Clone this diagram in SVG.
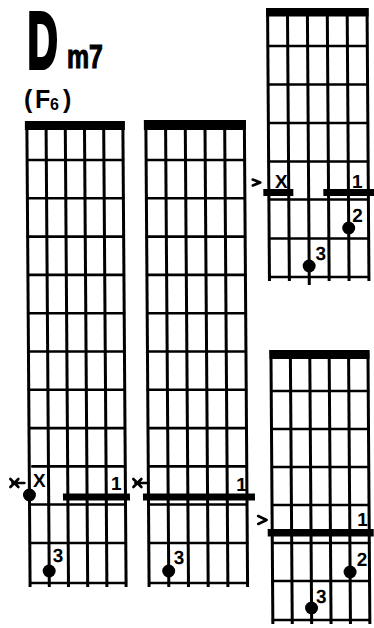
<svg xmlns="http://www.w3.org/2000/svg" width="374" height="628" viewBox="0 0 374 628">
<style>
.s{stroke:#000;stroke-width:3;fill:none}
.f{stroke:#000;stroke-width:2.6;fill:none}
.nut{fill:#000}
.bar{fill:#000}
.dot{fill:#000}
.ptr{stroke:#000;stroke-width:2.6;fill:none;stroke-linecap:round;stroke-linejoin:round}
.lbl{font-family:"Liberation Sans",Arial,sans-serif;font-weight:bold;font-size:19px;fill:#000;text-anchor:middle}
.ttl{font-family:"Liberation Sans",Arial,sans-serif;font-weight:bold;fill:#000}
</style>
<rect width="374" height="628" fill="#fff"/>
<g id="title">
<text class="ttl" transform="translate(27.5,68) scale(0.53,1)" x="0" y="0" font-size="79" stroke="#000" stroke-width="4">D</text>
<text class="ttl" transform="translate(67,68) scale(0.73,1)" x="0" y="0" font-size="34" stroke="#000" stroke-width="1.2">m7</text>
<text class="ttl" font-size="25" y="108"><tspan x="24">(</tspan><tspan x="35">F</tspan><tspan x="50" y="110" font-size="16">6</tspan><tspan x="63" y="108">)</tspan></text>
</g>
<g transform="skewX(0.4)">
<g id="board1">
<rect class="nut" x="24" y="121" width="100" height="9"/>
<g class="s"><line x1="26" y1="121" x2="26" y2="587"/><line x1="45.2" y1="121" x2="45.2" y2="587"/><line x1="64.4" y1="121" x2="64.4" y2="587"/><line x1="83.6" y1="121" x2="83.6" y2="587"/><line x1="102.8" y1="121" x2="102.8" y2="587"/><line x1="122" y1="121" x2="122" y2="587"/></g>
<g class="f"><line x1="25" y1="160" x2="123" y2="160"/><line x1="25" y1="198.3" x2="123" y2="198.3"/><line x1="25" y1="236.6" x2="123" y2="236.6"/><line x1="25" y1="274.9" x2="123" y2="274.9"/><line x1="25" y1="313.2" x2="123" y2="313.2"/><line x1="25" y1="351.5" x2="123" y2="351.5"/><line x1="25" y1="389.8" x2="123" y2="389.8"/><line x1="25" y1="428.1" x2="123" y2="428.1"/><line x1="28" y1="466.4" x2="123" y2="466.4"/><line x1="25" y1="504.5" x2="123" y2="504.5"/><line x1="25" y1="543" x2="123" y2="543"/><line x1="25" y1="583" x2="123" y2="583"/></g>
<rect class="bar" x="59.5" y="493.5" width="67" height="7"/>
<path class="ptr" d="M7,479 L15,487 M7,487 L15,479 M9,483 H21"/>
<circle class="dot" cx="26" cy="495" r="6.5"/>
<circle class="dot" cx="45.2" cy="571" r="6.5"/>
<text class="lbl" x="36" y="487">X</text>
<text class="lbl" x="113" y="490">1</text>
<text class="lbl" x="54" y="562">3</text>
</g>
<g id="board2">
<rect class="nut" x="143" y="120" width="102" height="10"/>
<g class="s"><line x1="145" y1="120" x2="145" y2="587"/><line x1="164.7" y1="120" x2="164.7" y2="587"/><line x1="184.4" y1="120" x2="184.4" y2="587"/><line x1="204.1" y1="120" x2="204.1" y2="587"/><line x1="223.8" y1="120" x2="223.8" y2="587"/><line x1="243.5" y1="120" x2="243.5" y2="587"/></g>
<g class="f"><line x1="144" y1="160" x2="244.5" y2="160"/><line x1="144" y1="198.3" x2="244.5" y2="198.3"/><line x1="144" y1="236.6" x2="244.5" y2="236.6"/><line x1="144" y1="274.9" x2="244.5" y2="274.9"/><line x1="144" y1="313.2" x2="244.5" y2="313.2"/><line x1="144" y1="351.5" x2="244.5" y2="351.5"/><line x1="144" y1="389.8" x2="244.5" y2="389.8"/><line x1="144" y1="428.1" x2="244.5" y2="428.1"/><line x1="144" y1="466.4" x2="244.5" y2="466.4"/><line x1="144" y1="504.5" x2="244.5" y2="504.5"/><line x1="144" y1="543" x2="244.5" y2="543"/><line x1="144" y1="583" x2="244.5" y2="583"/></g>
<rect class="bar" x="139.5" y="493.5" width="112" height="7"/>
<path class="ptr" d="M130,479 L138,487 M130,487 L138,479 M132,483 H144"/>
<circle class="dot" cx="164.7" cy="571" r="6.5"/>
<text class="lbl" x="238" y="491">1</text>
<text class="lbl" x="175" y="564">3</text>
</g>
<g id="board3">
<rect class="nut" x="266" y="8" width="102.5" height="8.5"/>
<g class="s"><line x1="267.5" y1="8" x2="267.5" y2="281"/><line x1="287.4" y1="8" x2="287.4" y2="281"/><line x1="307.3" y1="8" x2="307.3" y2="285"/><line x1="327.2" y1="8" x2="327.2" y2="281"/><line x1="347.1" y1="8" x2="347.1" y2="281"/><line x1="367" y1="8" x2="367" y2="281"/></g>
<g class="f"><line x1="266.5" y1="46" x2="368" y2="46"/><line x1="266.5" y1="84.5" x2="368" y2="84.5"/><line x1="266.5" y1="123" x2="368" y2="123"/><line x1="266.5" y1="161.5" x2="368" y2="161.5"/><line x1="266.5" y1="199.5" x2="368" y2="199.5"/><line x1="266.5" y1="238.5" x2="368" y2="238.5"/><line x1="266.5" y1="277" x2="368" y2="277"/></g>
<rect class="bar" x="262" y="189" width="30" height="7"/>
<rect class="bar" x="322" y="189" width="51" height="7"/>
<path class="ptr" d="M251.5,179.5 L259,182.5 L251.5,185.5"/>
<circle class="dot" cx="347.1" cy="228" r="6.5"/>
<circle class="dot" cx="307.3" cy="266" r="6.5"/>
<text class="lbl" x="280" y="188">X</text>
<text class="lbl" x="356" y="188">1</text>
<text class="lbl" x="356" y="222">2</text>
<text class="lbl" x="319" y="260">3</text>
</g>
<g id="board4">
<rect class="nut" x="267" y="350" width="100" height="9"/>
<g class="s"><line x1="268.5" y1="350" x2="268.5" y2="624"/><line x1="287.9" y1="350" x2="287.9" y2="624"/><line x1="307.3" y1="350" x2="307.3" y2="624"/><line x1="326.7" y1="350" x2="326.7" y2="624"/><line x1="346.1" y1="350" x2="346.1" y2="624"/><line x1="365.5" y1="350" x2="365.5" y2="624"/></g>
<g class="f"><line x1="267.5" y1="391" x2="366.5" y2="391"/><line x1="267.5" y1="429" x2="366.5" y2="429"/><line x1="267.5" y1="467" x2="366.5" y2="467"/><line x1="267.5" y1="505" x2="366.5" y2="505"/><line x1="267.5" y1="543" x2="366.5" y2="543"/><line x1="267.5" y1="581" x2="366.5" y2="581"/><line x1="267.5" y1="620" x2="366.5" y2="620"/></g>
<rect class="bar" x="264" y="529" width="106" height="7.5"/>
<path class="ptr" d="M254.5,516 L263,520 L254.5,524"/>
<circle class="dot" cx="346.1" cy="572" r="6.5"/>
<circle class="dot" cx="307.3" cy="608" r="6.5"/>
<text class="lbl" x="359" y="526">1</text>
<text class="lbl" x="358" y="566">2</text>
<text class="lbl" x="317" y="603">3</text>
</g>
</g>
</svg>
